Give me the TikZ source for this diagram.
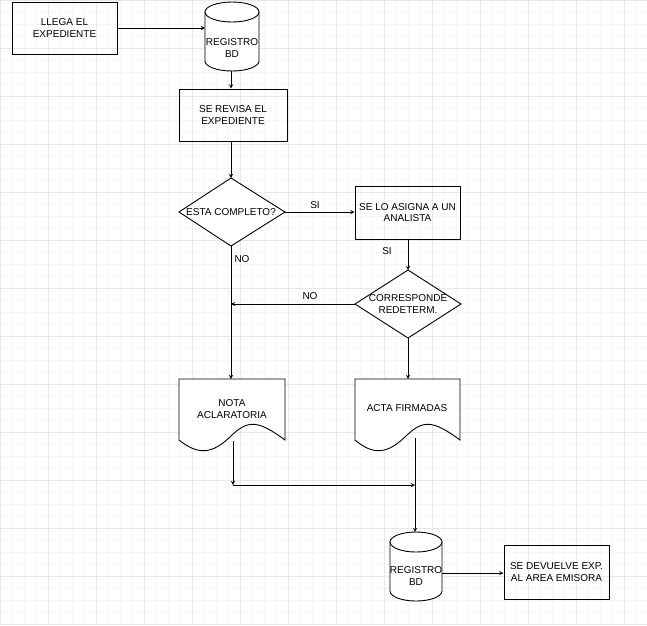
\documentclass[tikz,border=0pt]{standalone}
\usepackage{fontspec}
\setmainfont{Liberation Sans}
\begin{document}
\begin{tikzpicture}[x=1pt,y=-1pt,
  box/.style={draw,line width=1pt,align=center,font=\fontsize{10}{11.5}\selectfont,inner sep=1pt},
  txt/.style={align=center,font=\fontsize{10}{11.5}\selectfont,inner sep=1pt},
  lab/.style={font=\fontsize{10}{11.5}\selectfont,inner sep=1pt},
  shp/.style={draw,line width=0.9pt,fill=white},
  arr/.style={->,>=stealth,line width=0.9pt}]
\useasboundingbox (0,0) rectangle (647,625);
\fill[white] (0,0) rectangle (647,625);
\foreach \i in {0,12,...,647} \draw[gray!8,line width=0.4pt] (\i,0) -- (\i,625);
\foreach \i in {0,12,...,625} \draw[gray!8,line width=0.4pt] (0,\i) -- (647,\i);
\foreach \i in {0,48,...,647} \draw[gray!18,line width=0.6pt] (\i,0) -- (\i,625);
\foreach \i in {0,48,...,625} \draw[gray!18,line width=0.6pt] (0,\i) -- (647,\i);
% boxes
\node[box,minimum width=105,minimum height=52] (llega) at (64.5,28) {LLEGA EL\\EXPEDIENTE};
\node[box,minimum width=108,minimum height=52] (revisa) at (233,115) {SE REVISA EL\\EXPEDIENTE};
\node[box,minimum width=105,minimum height=53] (asigna) at (407.5,212.5) {SE LO ASIGNA A UN\\ANALISTA};
\node[box,minimum width=105,minimum height=54] (devuelve) at (556.5,572) {SE DEVUELVE EXP.\\AL AREA EMISORA};
% cylinder 1
\draw[shp] (205,12) -- (205,61) arc[start angle=180,end angle=0,x radius=27,y radius=10] -- (259,12) arc[start angle=0,end angle=-180,x radius=27,y radius=10] -- cycle;
\draw[line width=0.9pt] (205,12) arc[start angle=180,end angle=0,x radius=27,y radius=10];
\node[txt] (reg1) at (232,48) {REGISTRO\\BD};
\coordinate (reg1w) at (205,28);
\coordinate (reg1s) at (231,71);
% cylinder 2
\draw[shp] (390,542) -- (390,591) arc[start angle=180,end angle=0,x radius=26,y radius=10] -- (442,542) arc[start angle=0,end angle=-180,x radius=26,y radius=10] -- cycle;
\draw[line width=0.9pt] (390,542) arc[start angle=180,end angle=0,x radius=26,y radius=10];
\node[txt] (reg2) at (416,576) {REGISTRO\\BD};
\coordinate (reg2n) at (415,532);
\coordinate (reg2e) at (442,573);
% diamonds
\draw[shp] (179,212) -- (231,178) -- (285,212) -- (231,246) -- cycle;
\node[txt] (comp) at (231,212) {ESTA COMPLETO?};
\coordinate (compN) at (231,178); \coordinate (compE) at (285,212); \coordinate (compS) at (231,246);
\draw[shp] (355,304) -- (408,270) -- (461,304) -- (408,338) -- cycle;
\node[txt] (corr) at (408,304) {CORRESPONDE\\REDETERM.};
\coordinate (corrN) at (408,270); \coordinate (corrW) at (355,304); \coordinate (corrS) at (408,338);
% documents
\draw[shp] (179,379) -- (285,379) -- (285,440) .. controls (258,420) and (248,420) .. (232,435) .. controls (212,455) and (198,455) .. (179,440) -- cycle;
\node[txt] (nota) at (232,409) {NOTA\\ACLARATORIA};
\draw[shp] (355,379) -- (460,379) -- (460,440) .. controls (433,420) and (423,420) .. (407,435) .. controls (387,455) and (373,455) .. (355,440) -- cycle;
\node[txt] (acta) at (407,408) {ACTA FIRMADAS};
\coordinate (notaN) at (231,379); \coordinate (actaN) at (408,379);
\coordinate (notaS) at (233,441); \coordinate (actaS) at (415,438);
\coordinate (j1) at (233,485); \coordinate (j2) at (415,485);
% connectors
\draw[arr] (llega) -- (reg1w);
\draw[arr] (reg1s) -- (reg1s |- revisa.north);
\draw[arr] (revisa.south -| compN) -- (compN);
\draw[arr] (compE) -- (asigna.west |- compE);
\node[lab] (si1) at (315,205) {SI};
\draw[arr] (compS) -- (notaN);
\node[lab] (no1) at (242,259) {NO};
\draw[arr] (asigna.south -| corrN) -- (corrN);
\node[lab] (si2) at (387,251) {SI};
\draw[arr] (corrW) -- (231,304);
\node[lab] (no2) at (310,296) {NO};
\draw[arr] (corrS) -- (actaN);
\draw[arr] (notaS) -- (j1);
\draw[arr] (j1) -- (j2);
\draw[arr] (actaS) -- (reg2n);
\draw[arr] (reg2e) -- (devuelve.west |- reg2e);
\end{tikzpicture}
\end{document}
